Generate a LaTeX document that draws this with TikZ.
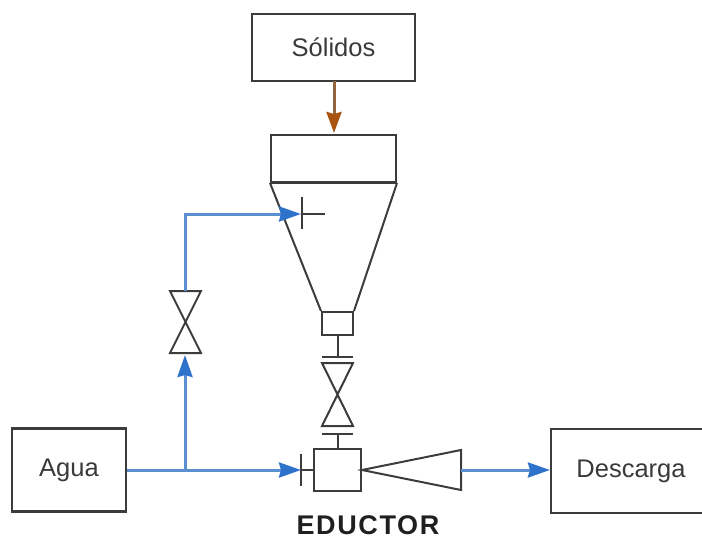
\documentclass[tikz,border=0pt]{standalone}
\usepackage{fontspec}
\setmainfont{Liberation Sans}
\usetikzlibrary{arrows.meta,calc}
\definecolor{bluel}{HTML}{5A8FD0}
\definecolor{blueh}{HTML}{2F72CC}
\definecolor{brownl}{HTML}{94643C}
\definecolor{brownh}{HTML}{A8530F}
\definecolor{inkl}{HTML}{3C3C3C}
\definecolor{textl}{HTML}{3A3A3A}
\tikzset{
 x=1pt,y=-1pt,
 labelbox/.style={draw=inkl,line width=2.1pt,minimum width=#1,inner sep=0pt,font=\fontsize{25.5}{25.5}\selectfont,text=textl},
 part/.style={draw=inkl,line width=2pt,line join=miter},
 partbox/.style={draw=inkl,line width=2pt,inner sep=0pt,fill=white},
 flow/.style={draw=bluel,line width=3pt,-{Stealth[inset=2pt,length=22pt,width=15pt,color=blueh]}},
 feed/.style={draw=brownl,line width=3pt,-{Stealth[inset=2pt,length=21pt,width=15pt,color=brownh]}},
}
\begin{document}
\begin{tikzpicture}
\useasboundingbox (0,0) rectangle (702,538);
% boxes
\node[labelbox=163pt,minimum height=67pt] (sol) at (333.5,47.5) {Sólidos};
\node[labelbox=114pt,minimum height=83pt] (agua) at (69,470) {Agua};
\node[labelbox=160pt,minimum height=84pt] (desc) at (631,471) {Descarga};
% hopper
\node[partbox,minimum width=125pt,minimum height=47pt] (top) at (333.5,158.5) {};
\node[partbox,minimum width=31pt,minimum height=23pt] (neck) at (337.5,323.5) {};
\draw[part] (top.south west) -- (neck.north west);
\draw[part] (top.south east) -- (neck.north east);
\draw[part,line width=2.8pt] (top.south west) -- (top.south east);
% eductor
\node[partbox,minimum width=47pt,minimum height=42pt] (edu) at (337.5,470) {};
\coordinate (difftip) at (edu.east);
\coordinate (diffout) at (461,470);
\draw[part] (difftip) -- (461,450) -- (461,490) -- cycle;
% solids valve and flanges
\coordinate (fl1) at (337.5,357);
\coordinate (fl2) at (337.5,434);
\draw[part] (neck.south) -- (fl1);
\draw[part] (322,357) -- (353,357);
\draw[part] (322,363) -- (353,363) -- (322,426) -- (353,426) -- cycle;
\draw[part] (322,434) -- (353,434);
\draw[part] (fl2) -- (edu.north);
% water valve
\coordinate (vb) at (185,355);
\coordinate (vt) at (185,291);
\draw[part] (170,291) -- (201,291) -- (170,353) -- (201,353) -- cycle;
% flange at eductor inlet
\coordinate (fl3) at (301,470);
\draw[part] (301,454) -- (301,486);
\draw[part] (fl3) -- (edu.west);
% hopper inlet cross
\coordinate (fl4) at (301,214);
\draw[part] (302,197) -- (302,229);
\draw[part] (302,214) -- (325,214);
% connectors
\coordinate (branch) at (185,470);
\draw[feed] (334,81) -- (334,133);
\draw[flow] (agua.east |- branch) -- (fl3 |- branch);
\draw[flow] (branch) -- (vb);
\draw[flow] (vt) -- (185,214) -- (fl4);
\draw[flow] (diffout) -- (desc.west |- diffout);
\node[font=\bfseries\fontsize{27}{27}\selectfont,text=black!88,inner sep=0pt,anchor=base] (lab) at (368,534) {\addfontfeature{LetterSpace=6}EDUCTOR};
\end{tikzpicture}
\end{document}
